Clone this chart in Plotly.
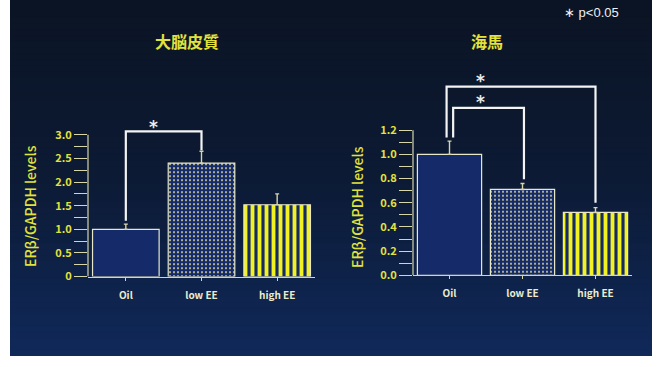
import plotly.graph_objects as go

# ---- data ----
groups = ["Oil", "low EE", "high EE"]
cortex_vals = [1.0, 2.40, 1.52]
cortex_err = [0.11, 0.25, 0.23]
hippo_vals = [1.0, 0.71, 0.52]
hippo_err = [0.11, 0.05, 0.04]

cortex_ticks = [0, 0.5, 1.0, 1.5, 2.0, 2.5, 3.0]
cortex_ticklabels = ["0", "0.5", "1.0", "1.5", "2.0", "2.5", "3.0"]
cortex_minor = [0.25, 0.75, 1.25, 1.75, 2.25, 2.75]
hippo_ticks = [0, 0.2, 0.4, 0.6, 0.8, 1.0, 1.2]
hippo_ticklabels = ["0.0", "0.2", "0.4", "0.6", "0.8", "1.0", "1.2"]
hippo_minor = [0.1, 0.3, 0.5, 0.7, 0.9, 1.1]

W, H = 657, 367
YELLOW = "#e2e23c"
PALE = "#d6d6a8"
NAVY = "#152a68"
FONT = "Noto Sans CJK JP"

pos = list(range(len(groups)))


def px_x(p):
    return p / W


def px_y(p):
    return 1 - p / H


fig = go.Figure()

patterns = [
    dict(shape=""),
    dict(shape=".", fgcolor="#cfcd98", bgcolor=NAVY, size=4, solidity=0.22, fillmode="replace"),
    dict(shape="|", fgcolor="#f2f222", bgcolor=NAVY, size=7, solidity=0.55, fillmode="replace"),
]


def add_bars(vals, errs, xa, ya):
    for i, g in enumerate(groups):
        fig.add_trace(go.Bar(
            x=[pos[i]], y=[vals[i]], xaxis=xa, yaxis=ya, width=0.88, name=g,
            marker=dict(color=NAVY, pattern=patterns[i],
                        line=dict(color="#e8e8c8", width=1.2)),
            error_y=dict(type="data", symmetric=False, array=[errs[i]],
                         arrayminus=[0], color=PALE, thickness=1.4, width=2),
            showlegend=False, hoverinfo="skip",
        ))


add_bars(cortex_vals, cortex_err, "x", "y")
add_bars(hippo_vals, hippo_err, "x2", "y2")

# significance brackets: (axis suffix, left x, right x, left y, top y, right y, star x, star y)
brackets = [
    ("", 0.0, 1.0, 1.18, 3.07, 2.67, 0.36, 3.16),
    ("2", 0.05, 1.02, 1.14, 1.385, 0.795, 0.42, 1.43),
    ("2", -0.04, 2.0, 1.14, 1.56, 0.60, 0.42, 1.605),
]
for ax, x0, x1, y0, ytop, y1, xs, ys in brackets:
    fig.add_trace(go.Scatter(
        x=[x0, x0, x1, x1], y=[y0, ytop, ytop, y1],
        xaxis="x" + ax, yaxis="y" + ax, mode="lines",
        line=dict(color="#f4f4f4", width=2.2), showlegend=False,
        hoverinfo="skip",
    ))
    fig.add_annotation(x=xs, y=ys, xref="x" + ax, yref="y" + ax, text="*",
                       showarrow=False, xanchor="center", yanchor="middle",
                       font=dict(family="DejaVu Sans", size=17, color="#ececec",
                                 weight="bold"))

# background panel with vertical gradient (stacked rects so no seams show)
top_c = (11, 20, 36)
mid_c = (12, 26, 52)
bot_c = (16, 41, 90)
n = 60
y_top, y_bot = 0, 363
for k in range(n):
    t = (k + 0.5) / n
    if t < 0.5:
        a, b, f = top_c, mid_c, t / 0.5
    else:
        a, b, f = mid_c, bot_c, (t - 0.5) / 0.5
    c = tuple(round(a[j] + (b[j] - a[j]) * f) for j in range(3))
    ya0 = y_top + (y_bot - y_top) * k / n
    fig.add_shape(type="rect", xref="paper", yref="paper",
                  x0=px_x(10), x1=px_x(652), y0=px_y(y_bot), y1=px_y(ya0),
                  fillcolor="rgb(%d,%d,%d)" % c, line=dict(width=0), layer="below")

# y axis lines stop at the last tick
for xa, ya, ymax in [("x", "y", 3.0), ("x2", "y2", 1.2)]:
    fig.add_shape(type="line", xref=xa + " domain", yref=ya, x0=0, x1=0, y0=0, y1=ymax,
                  line=dict(color=PALE, width=1.2))


def yaxis(domain, rng, tv, tt, mv, anchor):
    return dict(
        domain=domain, range=rng, anchor=anchor, showgrid=False, zeroline=False,
        showline=False, tickmode="array", tickvals=tv, ticktext=tt, ticks="outside",
        ticklen=13, tickcolor=PALE, tickwidth=1.2,
        tickfont=dict(family=FONT, size=11, color=YELLOW, weight="bold"),
        minor=dict(tickmode="array", tickvals=mv, ticks="outside", ticklen=13,
                   tickcolor=PALE, tickwidth=1.2, showgrid=False),
        fixedrange=True,
    )


def xaxis(domain, anchor):
    return dict(
        domain=domain, anchor=anchor, range=[-0.5, 2.5], showgrid=False,
        tickmode="array", tickvals=pos, ticktext=groups,
        showline=True, linecolor=PALE, linewidth=1.2, ticks="outside", ticklen=3,
        tickcolor=PALE, zeroline=False, ticklabelstandoff=6,
        tickfont=dict(family=FONT, size=10, color="#ececcc", weight="bold"),
        fixedrange=True,
    )


fig.update_layout(
    width=W, height=H, margin=dict(l=0, r=0, t=0, b=0),
    paper_bgcolor="white", plot_bgcolor="rgba(0,0,0,0)",
    barmode="overlay",
    xaxis=xaxis([px_x(88), px_x(315)], "y"),
    yaxis=yaxis([px_y(282), px_y(120.5)], [0, 3.35], cortex_ticks, cortex_ticklabels,
                cortex_minor, "x"),
    xaxis2=xaxis([px_x(413), px_x(632)], "y2"),
    yaxis2=yaxis([px_y(280.7), px_y(71.1)], [0, 1.7], hippo_ticks, hippo_ticklabels,
                 hippo_minor, "x2"),
)

# titles and labels
for txt, x, y in [("大脳皮質", 187, 42), ("海馬", 487, 42)]:
    fig.add_annotation(x=px_x(x), y=px_y(y), xref="paper", yref="paper", text=txt,
                       showarrow=False, xanchor="center", yanchor="middle",
                       font=dict(family=FONT, size=16, color=YELLOW, weight="bold"))
for x, y in [(30, 210), (357, 211)]:
    fig.add_annotation(x=px_x(x), y=px_y(y), xref="paper", yref="paper",
                       text="ERβ/GAPDH levels", textangle=-90, showarrow=False,
                       xanchor="center", yanchor="middle",
                       font=dict(family=FONT, size=14, color=YELLOW, weight=500))
fig.add_annotation(x=px_x(562), y=px_y(13), xref="paper", yref="paper",
                   text="∗ p<0.05", xanchor="left", yanchor="middle", showarrow=False,
                   font=dict(family="Liberation Sans", size=13, color="#f0f0f0"))

fig.write_html("out.html")
